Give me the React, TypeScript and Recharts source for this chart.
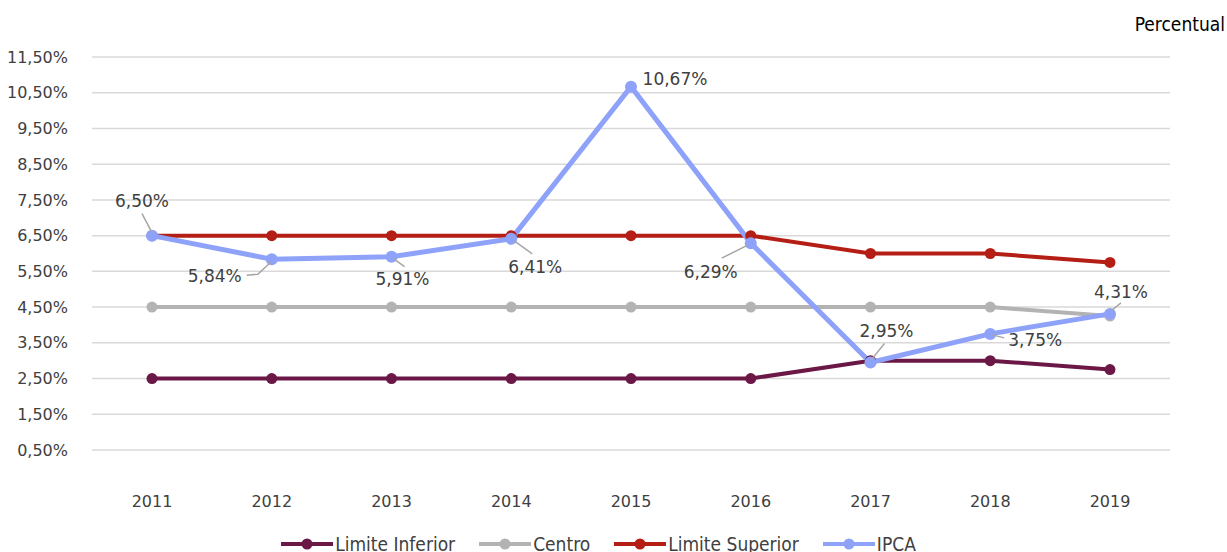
import React from 'react';
import {
  LineChart,
  Line,
  XAxis,
  YAxis,
  CartesianGrid,
  Legend,
  LabelList,
} from 'recharts';

const YEARS = ['2011', '2012', '2013', '2014', '2015', '2016', '2017', '2018', '2019'];
const LIMITE_INFERIOR = [2.5, 2.5, 2.5, 2.5, 2.5, 2.5, 3.0, 3.0, 2.75];
const CENTRO = [4.5, 4.5, 4.5, 4.5, 4.5, 4.5, 4.5, 4.5, 4.25];
const LIMITE_SUPERIOR = [6.5, 6.5, 6.5, 6.5, 6.5, 6.5, 6.0, 6.0, 5.75];
const IPCA = [6.5, 5.84, 5.91, 6.41, 10.67, 6.29, 2.95, 3.75, 4.31];
const Y_TICKS = [0.5, 1.5, 2.5, 3.5, 4.5, 5.5, 6.5, 7.5, 8.5, 9.5, 10.5, 11.5];

const data = YEARS.map((year, i) => ({
  year,
  inferior: LIMITE_INFERIOR[i],
  centro: CENTRO[i],
  superior: LIMITE_SUPERIOR[i],
  ipca: IPCA[i],
}));

const SERIES = [
  { key: 'inferior', name: 'Limite Inferior', color: '#6B1846', width: 4, r: 5.5 },
  { key: 'centro', name: 'Centro', color: '#B3B3B3', width: 4, r: 5.5 },
  { key: 'superior', name: 'Limite Superior', color: '#B41E14', width: 4, r: 5.5 },
  { key: 'ipca', name: 'IPCA', color: '#8FA2FA', width: 5, r: 6 },
];

// label placement for the IPCA values, relative to each point
const LABEL_LAYOUT = [
  { dx: -10, dy: -35, leader: [[0, -3], [-10, -22]] },
  { dx: -57, dy: 17, leader: [[0, 2], [-14, 15], [-25, 16]] },
  { dx: 11, dy: 22, leader: [[2, 2], [13, 10]] },
  { dx: 24, dy: 28, leader: [[3, 2], [21, 15]] },
  { dx: 44, dy: -8, leader: [] },
  { dx: -40, dy: 29, leader: [[-3, 2], [-29, 15]] },
  { dx: 16, dy: -31, leader: [[1, -3], [14, -19]] },
  { dx: 45, dy: 6, leader: [[2, 1], [14, 4]] },
  { dx: 11, dy: -22, leader: [[1, -3], [11, -11]] },
];

const fmt = (v: number) => v.toFixed(2).replace('.', ',') + '%';

const IpcaLabel = (props: any) => {
  const { x, y, value, index } = props;
  const l = LABEL_LAYOUT[index];
  if (!l) return null;
  const pts = l.leader.map(([a, b]) => `${x + a},${y + b}`).join(' ');
  return (
    <g>
      {l.leader.length > 0 && (
        <polyline points={pts} fill="none" stroke="#A6A6A6" strokeWidth={1.5} />
      )}
      <text
        x={x + l.dx}
        y={y + l.dy}
        textAnchor="middle"
        dominantBaseline="central"
        fill="#404040"
        fontSize={17}
        fontFamily="'DejaVu Sans', Verdana, sans-serif"
      >
        {fmt(value)}
      </text>
    </g>
  );
};

const LegendContent = () => (
  <div
    style={{
      display: 'flex',
      justifyContent: 'center',
      gap: 24,
      height: 20,
      alignItems: 'center',
      fontFamily: "'Liberation Sans Narrow', 'DejaVu Sans Condensed', sans-serif",
      fontSize: 19,
      color: '#404040',
      paddingRight: 30,
    }}
  >
    {SERIES.map((s) => (
      <div key={s.key} style={{ display: 'flex', alignItems: 'center' }}>
        <svg width={52} height={14} style={{ marginRight: 2 }}>
          <line x1={0} y1={7} x2={52} y2={7} stroke={s.color} strokeWidth={4} />
          <circle cx={26} cy={7} r={5.5} fill={s.color} />
        </svg>
        <span>{s.name}</span>
      </div>
    ))}
  </div>
);

export default function App() {
  return (
    <div style={{ position: 'absolute', left: 0, top: 0, width: 1227, height: 552, background: '#fff', overflow: 'hidden' }}>
      <div
        style={{
          position: 'absolute',
          right: 2,
          top: 13,
          fontFamily: "'Liberation Sans Narrow', 'DejaVu Sans Condensed', sans-serif",
          fontSize: 19,
          color: '#000',
        }}
      >
        Percentual
      </div>
      <LineChart
        width={1227}
        height={552}
        data={data}
        margin={{ top: 57, right: 57, left: 12, bottom: 22 }}
      >
        <CartesianGrid vertical={false} stroke="#D9D9D9" strokeWidth={1.5} />
        <XAxis
          dataKey="year"
          axisLine={false}
          tickLine={false}
          height={60}
          tickMargin={40}
          padding={{ left: 60, right: 60 }}
          tick={{ fill: '#404040', fontSize: 16, fontFamily: "'DejaVu Sans', Verdana, sans-serif" }}
        />
        <YAxis
          domain={[0.5, 11.5]}
          ticks={Y_TICKS}
          width={80}
          axisLine={false}
          tickLine={false}
          tickMargin={18}
          tickFormatter={fmt}
          tick={{ fill: '#404040', fontSize: 16, fontFamily: "'DejaVu Sans', Verdana, sans-serif" }}
        />
        <Legend
          verticalAlign="bottom"
          content={<LegendContent />}
          wrapperStyle={{ top: 534, bottom: 'auto', left: 0, width: 1227 }}
        />
        {SERIES.map((s) => (
          <Line
            key={s.key}
            dataKey={s.key}
            name={s.name}
            stroke={s.color}
            strokeWidth={s.width}
            dot={{ r: s.r, fill: s.color, stroke: s.color, strokeWidth: 0 }}
            activeDot={false}
            isAnimationActive={false}
          >
            {s.key === 'ipca' && <LabelList dataKey="ipca" content={<IpcaLabel />} />}
          </Line>
        ))}
      </LineChart>
    </div>
  );
}
